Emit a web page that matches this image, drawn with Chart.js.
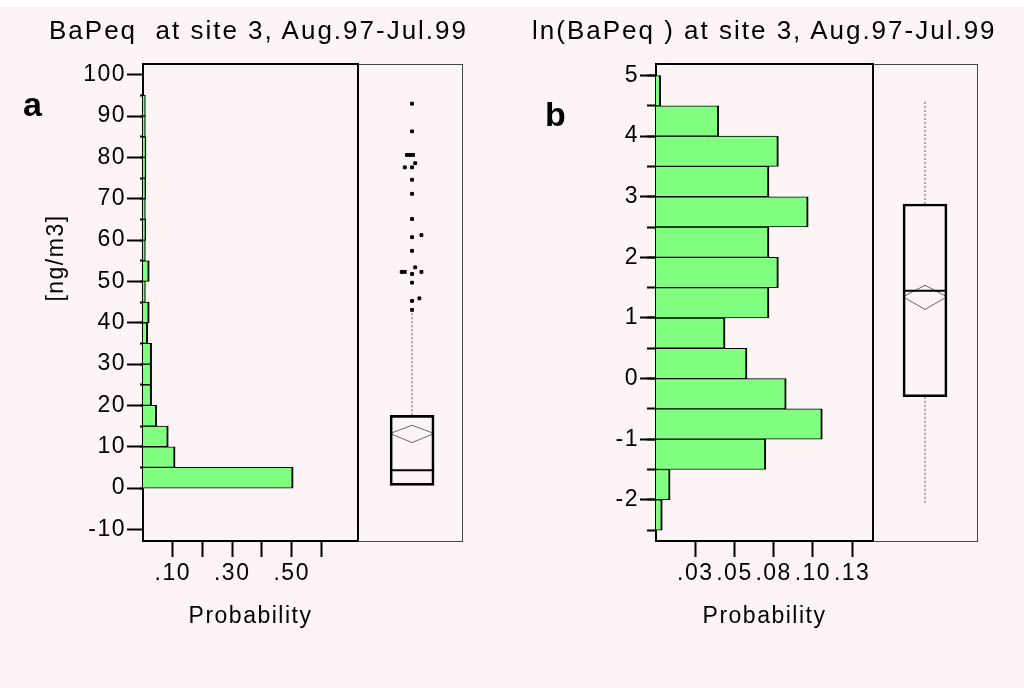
<!DOCTYPE html>
<html>
<head>
<meta charset="utf-8">
<title>BaPeq at site 3</title>
<script src="https://cdn.jsdelivr.net/npm/chart.js@4.4.1/dist/chart.umd.min.js"></script>
<style>
  html, body { margin: 0; padding: 0; }
  body { width: 1024px; height: 688px; background: #fdf5f5; position: relative; overflow: hidden; }
  #topStrip { position: absolute; left: 0; top: 0; width: 1024px; height: 7px; background: #fff; }
  canvas { position: absolute; left: 0; top: 0; }
  .lbl { position: absolute; font-family: "Liberation Sans", Arial, sans-serif; color: #000; white-space: pre; line-height: 1; }
  .title { font-size: 26px; letter-spacing: 2px; }
  .panel { font-size: 34px; font-weight: bold; }
  #unitA { font-size: 23px; letter-spacing: 1.5px; transform: translate(-50%, -50%) rotate(-90deg); }
</style>
</head>
<body>
<div id="topStrip"></div>
<canvas id="histA" width="1024" height="688"></canvas>
<canvas id="boxA" width="1024" height="688"></canvas>
<canvas id="histB" width="1024" height="688"></canvas>
<canvas id="boxB" width="1024" height="688"></canvas>
<div class="lbl title" style="left:49px;top:17px;">BaPeq  at site 3, Aug.97-Jul.99</div>
<div class="lbl title" style="left:532px;top:17px;">ln(BaPeq ) at site 3, Aug.97-Jul.99</div>
<div class="lbl panel" style="left:23px;top:87px;">a</div>
<div class="lbl panel" style="left:545px;top:97px;">b</div>
<div class="lbl" id="unitA" style="left:55px;top:258px;">[ng/m3]</div>
<script>
// panel a : BaPeq histogram (bins of 5 ng/m3)
const binCentersA = [2.5, 7.5, 12.5, 17.5, 22.5, 27.5, 32.5, 37.5, 42.5, 47.5, 52.5, 57.5, 62.5, 67.5, 72.5, 77.5, 82.5, 87.5, 92.5];
const probA = [0.505, 0.108, 0.085, 0.046, 0.029, 0.029, 0.029, 0.016, 0.021, 0.008, 0.021, 0.008, 0.009, 0.008, 0.009, 0.010, 0.010, 0.008, 0.008];
const yTicksA = [-10, 0, 10, 20, 30, 40, 50, 60, 70, 80, 90, 100];
const yEdgesA = [0, 5, 10, 15, 20, 25, 30, 35, 40, 45, 50, 55, 60, 65, 70, 75, 80, 85, 90, 95];
const xTicksA = [0.1, 0.2, 0.3, 0.4, 0.5, 0.6];
const xLabelsA = ['.10', '', '.30', '', '.50', ''];
const boxStatsA = { q1: 0.65, median: 4.3, q3: 17.6, mean: 13.2, ciLo: 11.0, ciHi: 15.2, whiskLo: null, whiskHi: 43.1 };
const outlierValsA = [93.0, 86.3, 80.6, 80.6, 80.6, 78.6, 77.6, 77.6, 74.6, 71.2, 65.1, 60.7, 61.2, 57.4, 53.4, 52.3, 52.3, 52.3, 51.8, 49.7, 45.3, 45.9, 43.1];
const outlierJitterA = [0, 0, -0.05, -0.02, 0.01, 0.03, -0.07, 0, 0, 0, 0, 0, 0.09, 0, 0.03, -0.1, -0.07, 0.09, 0, 0, 0, 0.07, 0];

// panel b : ln(BaPeq) histogram (bins of 0.5)
const binCentersB = [-2.25, -1.75, -1.25, -0.75, -0.25, 0.25, 0.75, 1.25, 1.75, 2.25, 2.75, 3.25, 3.75, 4.25, 4.75];
const probB = [0.004, 0.009, 0.070, 0.106, 0.083, 0.058, 0.044, 0.072, 0.078, 0.072, 0.097, 0.072, 0.078, 0.040, 0.003];
const yTicksB = [-2, -1, 0, 1, 2, 3, 4, 5];
const yEdgesB = [-2.5, -2, -1.5, -1, -0.5, 0, 0.5, 1, 1.5, 2, 2.5, 3, 3.5, 4, 4.5, 5];
const xTicksB = [0.025, 0.05, 0.075, 0.1, 0.125];
const xLabelsB = ['.03', '.05', '.08', '.10', '.13'];
const boxStatsB = { q1: -0.30, median: 1.45, q3: 2.88, mean: 1.35, ciLo: 1.14, ciHi: 1.54, whiskLo: -2.07, whiskHi: 4.57 };

// layout (pixels)
const TOP = 64, BOTTOM = 541, PANEL_W = 104, BOX_W = 44;
const FONT = '"Liberation Sans", Arial, sans-serif';

Chart.defaults.font.family = FONT;
Chart.defaults.color = '#000';

const spacing = {
  id: 'spacing',
  beforeDraw(chart) { chart.ctx.letterSpacing = '1.5px'; }
};

function borderOnly(pos, extra, color, width) {
  return Object.assign({
    type: 'linear', position: pos, display: true, offset: false,
    ticks: { display: false },
    grid: { display: false, offset: false },
    border: { display: true, color: color, width: width },
    afterFit: s => { if (pos === 'top' || pos === 'bottom') s.height = 0; else s.width = 0; }
  }, extra);
}

function makeHist(id, o) {
  return new Chart(document.getElementById(id), {
    type: 'bar',
    data: {
      datasets: [{
        data: o.centers.map((c, i) => ({ x: o.probs[i], y: c })),
        backgroundColor: '#80ff80',
        borderColor: '#000',
        borderWidth: { top: 1, bottom: 1, right: 2, left: 0 },
        borderSkipped: false,
        barPercentage: 1,
        categoryPercentage: 1,
        xAxisID: 'x',
        yAxisID: 'y'
      }]
    },
    options: {
      indexAxis: 'y',
      responsive: false,
      animation: false,
      events: [],
      layout: { padding: { left: o.left - o.yWidth, right: 1024 - o.right, top: TOP, bottom: 0 } },
      plugins: { legend: { display: false }, tooltip: { enabled: false } },
      scales: {
        x: {
          type: 'linear', position: 'bottom', min: 0, max: o.xMax,
          afterBuildTicks: s => { s.ticks = o.xTicks.map(v => ({ value: v })); },
          afterFit: s => { s.height = 688 - BOTTOM; },
          ticks: { callback: (v, i) => o.xLabels[i], autoSkip: false, maxRotation: 0, minRotation: 0, padding: 3, font: { size: 23 } },
          grid: { drawOnChartArea: false, tickLength: 16, tickWidth: 2, tickColor: '#000' },
          border: { color: '#000', width: 2 },
          title: { display: true, text: 'Probability', font: { size: 23 }, padding: { top: 0, bottom: 58 } }
        },
        y: {
          type: 'linear', position: 'left', weight: 1, min: o.yMin, max: o.yMax, offset: false,
          afterBuildTicks: s => { s.ticks = o.yTicks.map(v => ({ value: v })); },
          afterFit: s => { s.width = o.yWidth; },
          ticks: { autoSkip: false, padding: 1, font: { size: 23 } },
          grid: { drawOnChartArea: false, offset: false, tickLength: 16, tickWidth: 2, tickColor: '#000' },
          border: { color: '#000', width: 2 }
        },
        yMinor: {
          type: 'linear', position: 'left', weight: 0, min: o.yMin, max: o.yMax, offset: false,
          afterBuildTicks: s => { s.ticks = o.yEdges.map(v => ({ value: v })); },
          afterFit: s => { s.width = 0; },
          ticks: { display: false },
          grid: { drawOnChartArea: false, offset: false, tickLength: o.minorLen, tickWidth: 2, tickColor: '#000' },
          border: { display: false }
        },
        xTop: borderOnly('top', { min: 0, max: 1 }, '#000', 2),
        yRight: borderOnly('right', { min: o.yMin, max: o.yMax }, '#000', 2)
      }
    },
    plugins: [spacing]
  });
}

function makeBox(id, o) {
  const s = o.stats;
  const half = BOX_W / 2 / PANEL_W;
  const cx = o.cx;
  const datasets = [
    {
      type: 'bar',
      data: [{ x: cx, y: [s.q1, s.q3] }],
      backgroundColor: 'rgba(0,0,0,0)',
      borderColor: '#000',
      borderWidth: 2,
      borderSkipped: false,
      barThickness: BOX_W
    },
    {
      type: 'line', showLine: true,
      data: [{ x: cx - half, y: s.median }, { x: cx + half, y: s.median }],
      borderColor: '#000', borderWidth: 2, pointRadius: 0
    },
    {
      type: 'line', showLine: true,
      data: [
        { x: cx - half, y: s.mean }, { x: cx, y: s.ciHi }, { x: cx + half, y: s.mean },
        { x: cx, y: s.ciLo }, { x: cx - half, y: s.mean }
      ],
      borderColor: '#666', borderWidth: 1, pointRadius: 0, tension: 0
    },
    {
      type: 'line', showLine: true,
      data: [{ x: cx, y: s.q3 }, { x: cx, y: s.whiskHi }],
      borderColor: '#555', borderWidth: 1, borderDash: [2, 2], pointRadius: 0
    }
  ];
  if (s.whiskLo !== null) {
    datasets.push({
      type: 'line', showLine: true,
      data: [{ x: cx, y: s.q1 }, { x: cx, y: s.whiskLo }],
      borderColor: '#555', borderWidth: 1, borderDash: [2, 2], pointRadius: 0
    });
  }
  if (o.outliers) {
    datasets.push({
      type: 'scatter', showLine: false,
      data: o.outliers.map((v, i) => ({ x: cx + o.jitter[i], y: v })),
      pointStyle: 'rect', pointRadius: 2, pointBorderWidth: 1,
      pointBackgroundColor: '#000', pointBorderColor: '#000'
    });
  }
  return new Chart(document.getElementById(id), {
    type: 'scatter',
    data: { datasets: datasets },
    options: {
      responsive: false,
      animation: false,
      events: [],
      layout: { padding: { left: o.left, right: 1024 - o.left - PANEL_W, top: TOP, bottom: 688 - BOTTOM } },
      plugins: { legend: { display: false }, tooltip: { enabled: false } },
      scales: {
        x: borderOnly('bottom', { min: 0, max: 1 }, '#444', 1),
        xTop: borderOnly('top', { min: 0, max: 1 }, '#444', 1),
        y: Object.assign(borderOnly('left', { min: o.yMin, max: o.yMax }, '#444', 1), { border: { display: false } }),
        yRight: borderOnly('right', { min: o.yMin, max: o.yMax }, '#444', 1)
      }
    }
  });
}

makeHist('histA', {
  centers: binCentersA, probs: probA, left: 143, right: 358, yWidth: 143,
  yMin: -12.8, yMax: 102.6, yTicks: yTicksA, yEdges: yEdgesA, minorLen: 3,
  xMax: 0.723, xTicks: xTicksA, xLabels: xLabelsA
});
makeBox('boxA', {
  stats: boxStatsA, left: 358, cx: 0.52, yMin: -12.8, yMax: 102.6,
  outliers: outlierValsA, jitter: outlierJitterA
});
makeHist('histB', {
  centers: binCentersB, probs: probB, left: 656, right: 873, yWidth: 100,
  yMin: -2.68, yMax: 5.19, yTicks: yTicksB, yEdges: yEdgesB, minorLen: 9,
  xMax: 0.1383, xTicks: xTicksB, xLabels: xLabelsB
});
makeBox('boxB', {
  stats: boxStatsB, left: 873, cx: 0.5, yMin: -2.68, yMax: 5.19
});
</script>
</body>
</html>
